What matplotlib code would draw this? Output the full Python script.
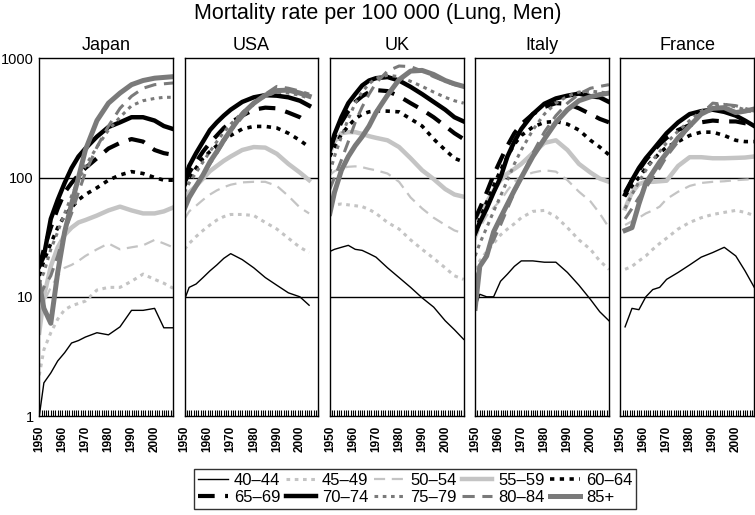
import numpy as np
import matplotlib
matplotlib.use('Agg')
import matplotlib.pyplot as plt
from matplotlib.ticker import MultipleLocator, NullLocator, FixedLocator

plt.rcParams['font.family'] = ['Liberation Sans', 'DejaVu Sans']

nan = np.nan
years = [1950, 1952, 1955, 1958, 1961, 1964, 1967, 1970, 1975, 1980, 1985, 1990, 1995, 2000, 2004, 2008]
countries = ['Japan', 'USA', 'UK', 'Italy', 'France']
age_groups = ['40–44', '45–49', '50–54', '55–59', '60–64', '65–69', '70–74', '75–79', '80–84', '85+']

# rows follow age_groups
japan = [
    [1.0, 1.9, 2.3, 2.9, 3.4, 4.1, 4.3, 4.6, 5.0, 4.8, 5.6, 7.7, 7.7, 8.0, 5.5, 5.5],
    [2.2, 3.6, 5.0, 6.5, 7.8, 8.4, 8.8, 9.2, 11.4, 12, 12, 13.5, 15.5, 14, 13, 11.8],
    [7, 9, 12, 15, 17.5, 18.5, 20, 22, 25, 28, 25, 26, 27, 30, 28, 26],
    [5, 10, 18, 26, 33, 38, 42, 44, 48, 53, 57, 53, 50, 50, 52, 56],
    [15, 20, 28, 38, 48, 56, 65, 72, 82, 95, 105, 112, 108, 100, 95, 95],
    [18, 25, 38, 55, 75, 90, 105, 120, 145, 175, 195, 210, 200, 170, 160, 155],
    [18, 22, 45, 65, 90, 120, 150, 175, 220, 265, 290, 320, 320, 300, 270, 255],
    [13, 16, 25, 35, 50, 70, 95, 125, 180, 250, 320, 400, 440, 460, 470, 470],
    [10, 12, 15, 22, 35, 50, 75, 110, 180, 270, 380, 480, 560, 600, 610, 620],
    [13, 8, 6, 16, 35, 60, 100, 170, 300, 420, 510, 600, 650, 680, 690, 700],
]
usa = [
    [9.5, 12, 12.8, 14.5, 16.5, 18.5, 21, 23, 20.5, 17.5, 14.5, 12.5, 10.8, 10.0, 8.5, nan],
    [25, 28, 32, 36, 40, 44, 47, 49, 49, 48, 42, 37, 31, 26, 23.5, nan],
    [45, 52, 58, 65, 72, 78, 83, 87, 91, 92, 92, 85, 70, 56, 50, nan],
    [65, 75, 85, 98, 113, 125, 138, 150, 170, 180, 178, 158, 130, 110, 95, nan],
    [85, 100, 120, 145, 165, 185, 205, 225, 255, 268, 268, 260, 235, 205, 180, nan],
    [90, 110, 135, 165, 195, 225, 260, 290, 330, 370, 385, 380, 350, 320, 285, nan],
    [95, 125, 160, 200, 250, 290, 330, 370, 430, 470, 490, 485, 470, 440, 400, nan],
    [75, 90, 110, 135, 165, 200, 240, 280, 350, 420, 480, 520, 510, 490, 460, nan],
    [60, 70, 85, 105, 130, 160, 200, 245, 320, 410, 500, 580, 560, 530, 500, nan],
    [55, 68, 85, 105, 135, 165, 205, 250, 340, 420, 490, 535, 540, 510, 480, nan],
]
uk = [
    [24, 25, 26, 27, 25, 24.5, 23, 21.5, 17.5, 14.5, 12, 9.8, 8.2, 6.3, 5.3, 4.4],
    [58, 59, 60, 59, 58, 57, 54, 50, 42, 37, 30, 25, 21, 17.5, 15, 14],
    [105, 113, 120, 123, 124, 122, 118, 115, 108, 92, 68, 55, 46, 40, 36, 34],
    [160, 200, 235, 240, 240, 232, 222, 215, 205, 180, 145, 115, 97, 80, 72, 69],
    [150, 180, 230, 270, 310, 340, 355, 362, 360, 355, 310, 270, 210, 170, 145, 135],
    [170, 220, 290, 360, 430, 480, 520, 540, 530, 480, 420, 370, 320, 270, 235, 210],
    [170, 230, 320, 420, 500, 590, 650, 680, 695, 650, 575, 500, 430, 370, 320, 295],
    [110, 150, 220, 310, 420, 520, 610, 680, 720, 700, 640, 580, 520, 470, 440, 420],
    [80, 100, 140, 200, 290, 390, 500, 620, 780, 860, 850, 780, 700, 640, 600, 580],
    [50, 75, 115, 150, 185, 220, 270, 350, 490, 660, 780, 790, 730, 650, 610, 580],
]
italy = [
    [8, 10.5, 10, 10, 13.5, 15.5, 18, 20, 20, 19.5, 19.5, 16, 12.5, 9.5, 7.5, 6.3],
    [17, 20, 24, 28, 33, 37, 41, 46, 52, 53, 47, 38, 30, 25, 20, 17],
    [30, 38, 48, 56, 64, 78, 92, 102, 110, 115, 112, 95, 76, 63, 50, 38],
    [45, 52, 62, 78, 95, 108, 118, 130, 160, 195, 205, 170, 130, 110, 98, 92],
    [35, 45, 62, 85, 115, 150, 190, 225, 265, 290, 295, 280, 250, 205, 180, 155],
    [45, 55, 75, 105, 140, 185, 235, 280, 340, 390, 420, 415, 380, 340, 310, 290],
    [34, 42, 55, 75, 100, 150, 200, 255, 340, 415, 460, 485, 505, 480, 470, 430],
    [22, 28, 38, 52, 70, 95, 130, 170, 250, 340, 420, 480, 520, 530, 520, 510],
    [14, 17, 23, 30, 40, 55, 75, 100, 160, 240, 330, 420, 500, 560, 580, 600],
    [8, 18, 22, 35, 46, 60, 78, 100, 150, 210, 290, 370, 440, 475, 495, 510],
]
france = [
    [nan, 5.6, 8, 7.8, 10, 11.5, 12, 14, 16, 18.5, 21.5, 23.5, 26, 22, 16.5, 12],
    [nan, 17, 18, 20, 22, 25, 28, 31, 37, 42, 46, 49, 51, 53, 51, 48],
    [nan, 40, 43, 46, 50, 53, 57, 66, 76, 85, 90, 92, 93, 95, 96, 97],
    [nan, 55, 75, 88, 92, 92, 93, 94, 125, 148, 148, 145, 145, 146, 147, 150],
    [nan, 70, 85, 100, 120, 140, 160, 180, 200, 225, 240, 240, 225, 205, 200, 200],
    [nan, 75, 95, 115, 140, 165, 190, 215, 250, 275, 290, 300, 295, 295, 285, 280],
    [nan, 72, 95, 120, 145, 170, 200, 235, 290, 340, 360, 370, 355, 330, 300, 270],
    [nan, 55, 72, 92, 115, 140, 165, 195, 245, 300, 360, 400, 410, 390, 370, 350],
    [nan, 45, 55, 68, 82, 100, 120, 150, 200, 270, 340, 420, 410, 400, 380, 360],
    [nan, 36, 38, 60, 90, 110, 135, 160, 215, 270, 340, 380, 385, 350, 360, 375],
]
all_data = [japan, usa, uk, italy, france]

light = '#c4c4c4'
mid = '#7a7a7a'
styles = [
    dict(color='black', lw=1.0, ls='-'),
    dict(color=light, lw=2.2, ls=(0, (1.2, 1.5))),
    dict(color=light, lw=1.6, ls=(0, (5, 3))),
    dict(color=light, lw=3.2, ls='-'),
    dict(color='black', lw=2.6, ls=(0, (1.2, 1.5))),
    dict(color='black', lw=3.0, ls=(0, (4, 2.5))),
    dict(color='black', lw=3.2, ls='-'),
    dict(color=mid, lw=2.2, ls=(0, (1.2, 1.5))),
    dict(color=mid, lw=2.2, ls=(0, (4, 2.5))),
    dict(color=mid, lw=3.6, ls='-'),
]

fig, axes = plt.subplots(1, 5, figsize=(7.55, 5.15), dpi=100, sharey=True)
plt.subplots_adjust(left=0.052, right=0.999, top=0.887, bottom=0.192, wspace=0.086)

handles = []
for i, ax in enumerate(axes):
    ax.set_yscale('log')
    ax.set_ylim(1, 1000)
    ax.set_xlim(1950, 2008)
    ax.axhline(10, color='black', lw=1, zorder=1)
    ax.axhline(100, color='black', lw=1, zorder=1)
    for k, series in enumerate(all_data[i]):
        line, = ax.plot(years, series, label=age_groups[k], zorder=2, **styles[k])
        if i == 0:
            handles.append(line)
    ax.set_title(countries[i], fontsize=13, pad=6)
    ax.set_xticks([1950, 1960, 1970, 1980, 1990, 2000])
    ax.set_xticklabels(['1950', '1960', '1970', '1980', '1990', '2000'],
                       rotation=90, fontsize=8.5, fontweight='bold')
    ax.xaxis.set_minor_locator(MultipleLocator(1))
    ax.tick_params(axis='x', which='both', direction='in', length=4, width=0.8, pad=7)
    ax.yaxis.set_major_locator(FixedLocator([1, 10, 100, 1000]))
    ax.yaxis.set_minor_locator(NullLocator())
    ax.tick_params(axis='y', length=0, labelsize=10.5, pad=4)
    for s in ax.spines.values():
        s.set_linewidth(1.0)

axes[0].set_yticklabels(['1', '10', '100', '1000'])
for ax in axes[1:]:
    ax.tick_params(axis='y', labelleft=False)

fig.suptitle('Mortality rate per 100 000 (Lung, Men)', fontsize=15.5, y=0.995)

order = [0, 5, 1, 6, 2, 7, 3, 8, 4, 9]
leg = fig.legend([handles[j] for j in order], [age_groups[j] for j in order],
                 ncol=5, loc='center', bbox_to_anchor=(0.55, 0.0505), fontsize=12,
                 frameon=True, fancybox=False, edgecolor='black', handlelength=1.8,
                 handletextpad=0.35, columnspacing=0.35, labelspacing=0.15,
                 borderpad=0.2, borderaxespad=0)
leg.get_frame().set_linewidth(1.0)

plt.savefig('out.png', dpi=100)
